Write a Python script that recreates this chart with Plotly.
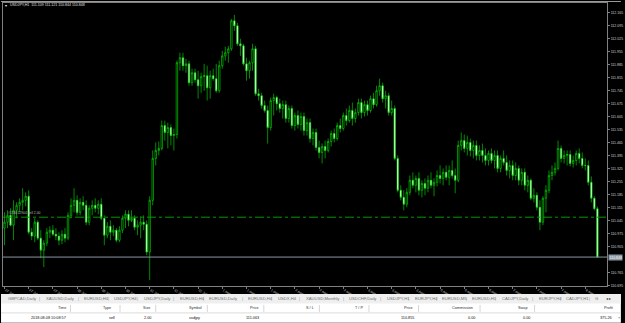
import plotly.graph_objects as go

# ---------------- data (USDJPY H1) ----------------
open_ = [111.004, 111.036, 111.073, 111.020, 111.100, 111.127, 111.143, 111.154, 111.176, 110.982,
         110.961, 111.036, 110.950, 110.885, 110.923, 110.982, 110.993, 110.971, 110.961, 110.939,
         110.971, 110.950, 111.073, 111.127, 111.154, 111.089, 111.143, 111.127, 111.036, 111.111,
         111.127, 111.111, 111.133, 111.057, 110.966, 111.014, 110.982, 110.993, 110.939, 110.993,
         111.057, 111.079, 111.046, 111.057, 111.009, 111.020, 111.036, 111.025, 110.875, 111.154,
         111.380, 111.423, 111.434, 111.557, 111.520, 111.546, 111.503, 111.509, 111.896, 111.923,
         111.880, 111.890, 111.788, 111.842, 111.804, 111.772, 111.821, 111.826, 111.761, 111.826,
         111.810, 111.745, 111.880, 111.933, 111.950, 111.971, 112.122, 112.095, 111.998, 111.987,
         111.890, 111.853, 111.896, 111.971, 111.729, 111.718, 111.665, 111.638, 111.546, 111.692,
         111.708, 111.675, 111.649, 111.670, 111.595, 111.649, 111.557, 111.611, 111.563, 111.606,
         111.530, 111.573, 111.487, 111.520, 111.439, 111.412, 111.444, 111.423, 111.471, 111.514,
         111.487, 111.557, 111.541, 111.611, 111.584, 111.638, 111.595, 111.627, 111.681, 111.627,
         111.670, 111.638, 111.702, 111.670, 111.745, 111.772, 111.702, 111.718, 111.627, 111.649,
         111.380, 111.208, 111.170, 111.133, 111.197, 111.262, 111.235, 111.272, 111.208, 111.245,
         111.219, 111.262, 111.235, 111.251, 111.288, 111.272, 111.305, 111.278, 111.315, 111.288,
         111.262, 111.450, 111.476, 111.434, 111.466, 111.423, 111.450, 111.396, 111.423, 111.396,
         111.369, 111.407, 111.369, 111.396, 111.326, 111.380, 111.358, 111.315, 111.342, 111.288,
         111.326, 111.262, 111.305, 111.235, 111.262, 111.165, 111.181, 111.116, 111.036, 111.165,
         111.208, 111.288, 111.305, 111.326, 111.434, 111.380, 111.396, 111.401, 111.353, 111.369,
         111.407, 111.380, 111.342, 111.342, 111.251, 111.165, 111.109]

high = [111.089, 111.100, 111.111, 111.154, 111.143, 111.165, 111.219, 111.197, 111.208, 111.004,
        111.057, 111.046, 110.993, 110.939, 111.004, 111.014, 111.020, 111.004, 110.982, 110.993,
        111.004, 111.089, 111.165, 111.219, 111.181, 111.165, 111.176, 111.154, 111.127, 111.154,
        111.165, 111.154, 111.165, 111.073, 111.036, 111.046, 111.020, 111.004, 111.014, 111.073,
        111.100, 111.100, 111.100, 111.073, 111.046, 111.068, 111.073, 111.046, 111.176, 111.423,
        111.466, 111.471, 111.584, 111.584, 111.573, 111.563, 111.541, 111.907, 111.950, 111.950,
        111.917, 111.907, 111.864, 111.864, 111.853, 111.842, 111.890, 111.880, 111.853, 111.864,
        111.890, 111.907, 111.960, 111.982, 111.987, 112.132, 112.154, 112.111, 112.025, 111.998,
        111.923, 111.907, 111.998, 111.987, 111.756, 111.734, 111.692, 111.665, 111.708, 111.729,
        111.718, 111.702, 111.692, 111.692, 111.665, 111.665, 111.627, 111.638, 111.627, 111.627,
        111.595, 111.595, 111.541, 111.541, 111.476, 111.460, 111.476, 111.487, 111.530, 111.541,
        111.573, 111.595, 111.627, 111.649, 111.665, 111.681, 111.649, 111.702, 111.702, 111.692,
        111.692, 111.718, 111.734, 111.772, 111.810, 111.788, 111.745, 111.734, 111.692, 111.665,
        111.396, 111.235, 111.208, 111.219, 111.288, 111.305, 111.288, 111.305, 111.262, 111.272,
        111.288, 111.305, 111.272, 111.315, 111.342, 111.326, 111.342, 111.342, 111.369, 111.326,
        111.476, 111.520, 111.509, 111.503, 111.487, 111.476, 111.476, 111.450, 111.460, 111.434,
        111.423, 111.434, 111.423, 111.423, 111.396, 111.423, 111.396, 111.369, 111.369, 111.358,
        111.342, 111.326, 111.326, 111.288, 111.272, 111.219, 111.197, 111.154, 111.176, 111.235,
        111.315, 111.342, 111.358, 111.476, 111.450, 111.423, 111.423, 111.423, 111.396, 111.423,
        111.434, 111.412, 111.380, 111.369, 111.283, 111.176, 111.121]

low = [110.912, 111.004, 111.014, 110.939, 111.057, 111.089, 111.100, 111.122, 110.971, 110.939,
       110.928, 110.939, 110.842, 110.794, 110.907, 110.950, 110.961, 110.939, 110.912, 110.918,
       110.928, 110.939, 111.057, 111.089, 111.073, 111.073, 111.100, 111.020, 111.020, 111.073,
       111.089, 111.079, 111.046, 110.912, 110.950, 110.939, 110.961, 110.928, 110.928, 110.977,
       111.004, 111.014, 111.036, 110.993, 110.966, 110.950, 110.993, 110.858, 110.724, 111.127,
       111.342, 111.396, 111.423, 111.476, 111.434, 111.450, 111.423, 111.487, 111.853, 111.853,
       111.842, 111.772, 111.772, 111.788, 111.702, 111.734, 111.745, 111.692, 111.702, 111.799,
       111.734, 111.734, 111.864, 111.907, 111.896, 111.960, 112.068, 111.987, 111.933, 111.880,
       111.799, 111.810, 111.853, 111.718, 111.692, 111.649, 111.627, 111.460, 111.530, 111.611,
       111.638, 111.627, 111.595, 111.573, 111.573, 111.541, 111.530, 111.541, 111.530, 111.503,
       111.503, 111.466, 111.450, 111.423, 111.380, 111.353, 111.380, 111.412, 111.444, 111.466,
       111.476, 111.520, 111.530, 111.557, 111.573, 111.557, 111.573, 111.611, 111.595, 111.606,
       111.611, 111.627, 111.649, 111.659, 111.718, 111.681, 111.649, 111.611, 111.611, 111.369,
       111.197, 111.154, 111.100, 111.116, 111.181, 111.219, 111.197, 111.181, 111.170, 111.181,
       111.197, 111.219, 111.176, 111.229, 111.245, 111.235, 111.262, 111.235, 111.272, 111.192,
       111.251, 111.423, 111.412, 111.396, 111.391, 111.380, 111.369, 111.369, 111.358, 111.342,
       111.342, 111.353, 111.326, 111.305, 111.305, 111.342, 111.288, 111.272, 111.262, 111.262,
       111.235, 111.235, 111.208, 111.197, 111.154, 111.143, 111.100, 110.993, 111.020, 111.089,
       111.192, 111.262, 111.288, 111.315, 111.358, 111.353, 111.342, 111.337, 111.331, 111.342,
       111.353, 111.326, 111.315, 111.235, 111.143, 111.100, 110.844]

close = [111.036, 111.073, 111.020, 111.100, 111.127, 111.143, 111.154, 111.176, 110.982, 110.961,
         111.036, 110.950, 110.885, 110.923, 110.982, 110.993, 110.971, 110.961, 110.939, 110.971,
         110.950, 111.073, 111.127, 111.154, 111.089, 111.143, 111.127, 111.036, 111.111, 111.127,
         111.111, 111.133, 111.057, 110.966, 111.014, 110.982, 110.993, 110.939, 110.993, 111.057,
         111.079, 111.046, 111.057, 111.009, 111.020, 111.036, 111.025, 110.875, 111.154, 111.380,
         111.423, 111.434, 111.557, 111.520, 111.546, 111.503, 111.509, 111.896, 111.923, 111.880,
         111.890, 111.788, 111.842, 111.804, 111.772, 111.821, 111.826, 111.761, 111.826, 111.810,
         111.745, 111.880, 111.933, 111.950, 111.971, 112.122, 112.095, 111.998, 111.987, 111.890,
         111.853, 111.896, 111.971, 111.729, 111.718, 111.665, 111.638, 111.546, 111.692, 111.708,
         111.675, 111.649, 111.670, 111.595, 111.649, 111.557, 111.611, 111.563, 111.606, 111.530,
         111.573, 111.487, 111.520, 111.439, 111.412, 111.444, 111.423, 111.471, 111.514, 111.487,
         111.557, 111.541, 111.611, 111.584, 111.638, 111.595, 111.627, 111.681, 111.627, 111.670,
         111.638, 111.702, 111.670, 111.745, 111.772, 111.702, 111.718, 111.627, 111.649, 111.380,
         111.208, 111.170, 111.133, 111.197, 111.262, 111.235, 111.272, 111.208, 111.245, 111.219,
         111.262, 111.235, 111.251, 111.288, 111.272, 111.305, 111.278, 111.315, 111.288, 111.262,
         111.450, 111.476, 111.434, 111.466, 111.423, 111.450, 111.396, 111.423, 111.396, 111.369,
         111.407, 111.369, 111.396, 111.326, 111.380, 111.358, 111.315, 111.342, 111.288, 111.326,
         111.262, 111.305, 111.235, 111.262, 111.165, 111.181, 111.116, 111.036, 111.165, 111.208,
         111.288, 111.305, 111.326, 111.434, 111.380, 111.396, 111.401, 111.353, 111.369, 111.407,
         111.380, 111.342, 111.342, 111.251, 111.165, 111.109, 110.848]

bar_index = list(range(len(close)))

x_tick_bars = [0, 8, 16, 24, 32, 40, 48, 56, 64, 72, 80, 88, 96, 104, 112, 120,
               128, 136, 144, 152, 160, 168, 176, 184, 192]
x_tick_text = ["27 Jul 2018", "27 Jul 14:00", "27 Jul 22:00", "30 Jul 06:00", "30 Jul 14:00",
               "30 Jul 22:00", "31 Jul 06:00", "31 Jul 14:00", "31 Jul 22:00", "1 Aug 06:00",
               "1 Aug 14:00", "1 Aug 22:00", "2 Aug 06:00", "2 Aug 14:00", "2 Aug 22:00",
               "3 Aug 06:00", "3 Aug 14:00", "3 Aug 22:00", "6 Aug 06:00", "6 Aug 14:00",
               "6 Aug 22:00", "7 Aug 06:00", "7 Aug 14:00", "7 Aug 22:00", "8 Aug 06:00"]

y_tick_vals = [112.165, 112.095, 112.025, 111.955, 111.885, 111.815, 111.745, 111.675,
               111.605, 111.535, 111.465, 111.395, 111.325, 111.255, 111.185, 111.115,
               111.045, 110.975, 110.905, 110.765, 110.695]

bid_price = 110.848
order_price = 111.063
chart_title = "USDJPY,H1  111.109 111.121 110.844 110.848"
order_label = "#158412904 sell 2.00"

tab_names = ["GBPCAD,Daily", "XAUUSD,Daily", "EURUSD,H4", "USDJPY,H4", "USDJPY,Daily",
             "EURUSD,H4", "EURUSD,Daily", "EURUSD,H4", "USDX,H4", "XAUUSD,Monthly",
             "USDCHF,Daily", "USDJPY,H1", "EURJPY,H4", "EURUSD,M5", "EURUSD,H1",
             "CADJPY,Daily", "EURJPY,H4", "CADJPY,H1", "G"]

header_cols = ["Time", "Type", "Size", "Symbol", "Price", "S / L", "T / P", "Price",
               "Commission", "Swap", "Profit"]
row_values = ["2018.08.08 10:08:57", "sell", "2.00", "usdjpy", "111.063", "", "",
              "110.855", "0.00", "0.00", "375.26"]

# ---------------- layout helpers (pixel -> paper) ----------------
W, H = 625, 323
ML, MR, MT, MB = 2, 14, 2, 37
PW, PH = W - ML - MR, H - MT - MB


def px(X):
    return (X - ML) / PW


def py(Y):
    return (H - MB - Y) / PH


FONT = "Liberation Sans, Arial, sans-serif"
GREEN = "#00e600"

fig = go.Figure(go.Candlestick(
    x=bar_index, open=open_, high=high, low=low, close=close,
    increasing=dict(line=dict(color=GREEN, width=0.6), fillcolor="#000000"),
    decreasing=dict(line=dict(color=GREEN, width=0.6), fillcolor="#f0fff0"),
    whiskerwidth=0, hoverinfo="skip",
))

shapes = []
annotations = []

# bid line and order line
shapes.append(dict(type="line", xref="paper", x0=0, x1=1, yref="y", y0=bid_price, y1=bid_price,
                   line=dict(color="#8a96a3", width=1)))
shapes.append(dict(type="line", xref="paper", x0=0, x1=1, yref="y", y0=order_price, y1=order_price,
                   line=dict(color="#009a00", width=1, dash="dashdot")))

# bottom panel backgrounds
shapes.append(dict(type="rect", xref="paper", yref="paper", x0=px(0), x1=px(W), y0=py(H), y1=py(294),
                   fillcolor="#ffffff", line=dict(width=0), layer="above"))
shapes.append(dict(type="rect", xref="paper", yref="paper", x0=px(0), x1=px(W), y0=py(303.5), y1=py(294),
                   fillcolor="#efefef", line=dict(width=0), layer="above"))
shapes.append(dict(type="line", xref="paper", yref="paper", x0=px(0), x1=px(W), y0=py(313), y1=py(313),
                   line=dict(color="#dcdcdc", width=1), layer="above"))
col_seps = [70, 120, 156, 208, 265, 321, 371, 421, 483, 538]
for cx in col_seps:
    shapes.append(dict(type="line", xref="paper", yref="paper", x0=px(cx), x1=px(cx),
                       y0=py(312), y1=py(305), line=dict(color="#d6d6d6", width=1), layer="above"))

# chart window frame (top edge)
shapes.append(dict(type="line", xref="paper", yref="paper", x0=px(0), x1=px(W), y0=py(0.5), y1=py(0.5),
                   line=dict(color="#9a9a9a", width=1)))

# title & order label
annotations.append(dict(xref="paper", yref="paper", x=px(2), y=py(4.5), text="\u25be", showarrow=False,
                        xanchor="left", yanchor="middle", font=dict(family=FONT, size=4, color="#e8e8e8")))
annotations.append(dict(xref="paper", yref="paper", x=px(7), y=py(4.5), text=chart_title, showarrow=False,
                        xanchor="left", yanchor="middle", font=dict(family=FONT, size=3.6, color="#e0e0e0")))
annotations.append(dict(xref="paper", yref="y", x=px(5), y=order_price, text=order_label, showarrow=False,
                        xanchor="left", yanchor="bottom", font=dict(family=FONT, size=3.4, color="#b8b8b8")))

# bid price label on the price scale
annotations.append(dict(xref="paper", yref="y", x=px(612), y=bid_price, text="110.848", showarrow=False,
                        xanchor="left", yanchor="middle", bgcolor="#8a96a3", borderpad=0.5,
                        font=dict(family=FONT, size=3.5, color="#ffffff")))

# tabs row
tab_x = [5, 43, 82, 112, 142, 178, 208, 247, 277, 305, 349, 387, 415, 443, 473, 503, 540, 568, 597]
for name, tx in zip(tab_names, tab_x):
    annotations.append(dict(xref="paper", yref="paper", x=px(tx), y=py(299), text=name, showarrow=False,
                            xanchor="left", yanchor="middle",
                            font=dict(family=FONT, size=4.2, color="#6e6e6e")))
    if tx > 10:
        annotations.append(dict(xref="paper", yref="paper", x=px(tx - 4), y=py(299), text="|",
                                showarrow=False, xanchor="center", yanchor="middle",
                                font=dict(family=FONT, size=4.2, color="#9a9a9a")))
annotations.append(dict(xref="paper", yref="paper", x=px(608), y=py(299), text="\u25c2 \u25b8",
                        showarrow=False, xanchor="left", yanchor="middle",
                        font=dict(family=FONT, size=4.2, color="#333333")))

# table header & row (right aligned)
col_right = [68, 113, 152, 205, 262, 318, 367, 417, 478, 533, 620]
row_right = [68, 117, 153, 203, 262, 318, 367, 418, 480, 535, 618]
for txt, rx in zip(header_cols, col_right):
    annotations.append(dict(xref="paper", yref="paper", x=px(rx), y=py(308.5), text=txt, showarrow=False,
                            xanchor="right", yanchor="middle",
                            font=dict(family=FONT, size=3.8, color="#333333")))
for txt, rx in zip(row_values, row_right):
    if txt:
        annotations.append(dict(xref="paper", yref="paper", x=px(rx), y=py(318), text=txt, showarrow=False,
                                xanchor="right", yanchor="middle",
                                font=dict(family=FONT, size=3.8, color="#111111")))
annotations.append(dict(xref="paper", yref="paper", x=px(620), y=py(318), text="\u00d7", showarrow=False,
                        xanchor="left", yanchor="middle", font=dict(family=FONT, size=3.8, color="#555555")))

fig.update_layout(
    width=W, height=H,
    margin=dict(l=ML, r=MR, t=MT, b=MB, pad=0),
    paper_bgcolor="#000000", plot_bgcolor="#000000",
    showlegend=False,
    shapes=shapes, annotations=annotations,
    xaxis=dict(range=[-0.49, 199.18], rangeslider=dict(visible=False),
               tickmode="array", tickvals=x_tick_bars, ticktext=x_tick_text,
               ticklabelposition="outside right",
               tickfont=dict(family=FONT, size=3.4, color="#d0d0d0"),
               ticks="outside", ticklen=2, tickcolor="#808080",
               showline=True, linecolor="#808080", linewidth=1, mirror=True,
               showgrid=False, zeroline=False, fixedrange=True),
    yaxis=dict(range=[110.692, 112.218], side="right",
               tickmode="array", tickvals=y_tick_vals,
               ticktext=["%.3f" % v for v in y_tick_vals],
               tickfont=dict(family=FONT, size=3.5, color="#d0d0d0"),
               ticks="outside", ticklen=2, tickcolor="#808080",
               showline=True, linecolor="#808080", linewidth=1, mirror=True,
               showgrid=False, zeroline=False, fixedrange=True),
)

fig.write_html("out.html")
